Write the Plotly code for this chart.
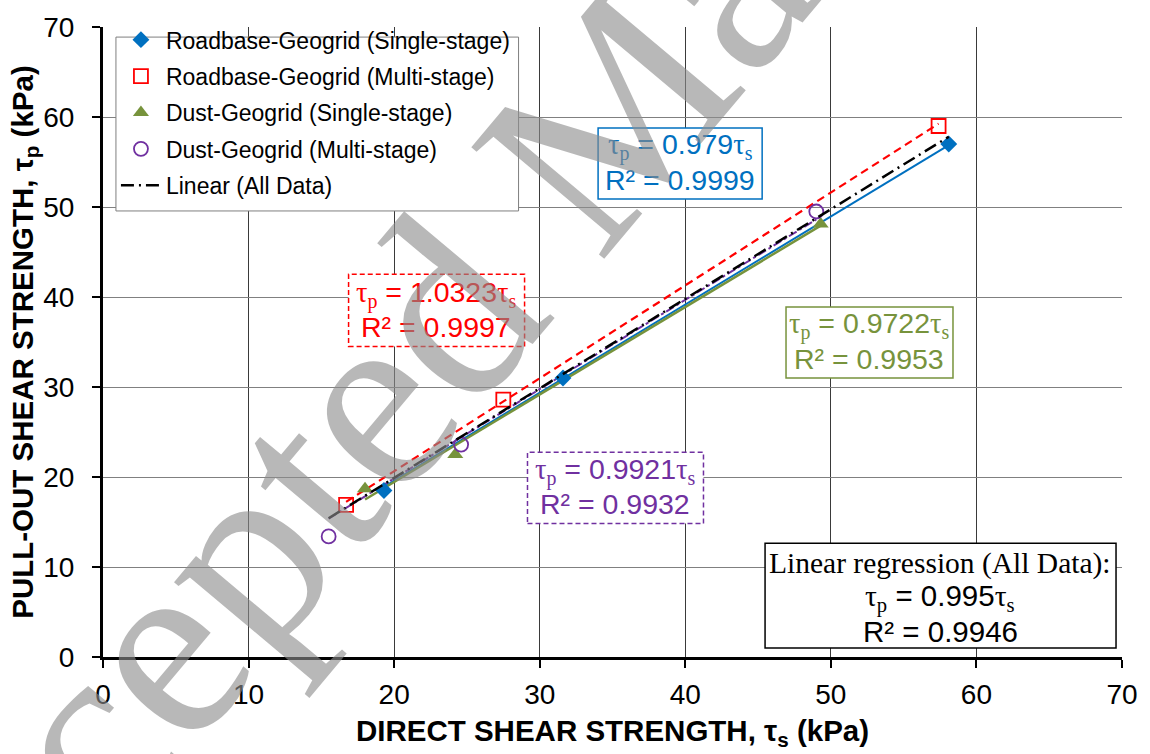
import plotly.graph_objects as go

# Direct shear strength τs (x) and pull-out shear strength τp (y), kPa
rb_single_x = [19.3, 31.6, 58.1]
rb_single_y = [18.5, 31.0, 57.0]
rb_multi_x = [16.7, 27.5, 57.4]
rb_multi_y = [16.9, 28.6, 59.0]
dust_single_x = [18.0, 24.2, 49.3]
dust_single_y = [18.7, 22.5, 48.1]
dust_multi_x = [15.5, 24.6, 49.0]
dust_multi_y = [13.4, 23.6, 49.5]

# Regressions through the origin: τp = k·τs
k_rb_single, r2_rb_single = 0.979, 0.9999
k_rb_multi, r2_rb_multi = 1.0323, 0.9997
k_dust_single, r2_dust_single = 0.9722, 0.9953
k_dust_multi, r2_dust_multi = 0.9921, 0.9932
k_all, r2_all = 0.995, 0.9946

axis_ticks = [0, 10, 20, 30, 40, 50, 60, 70]

BLUE = "#0070C0"
RED = "#FF0000"
GREEN = "#77933C"
PURPLE = "#7030A0"

SANS = "Arial, Liberation Sans, sans-serif"
SERIF_CSS = "font-family:\"Liberation Serif\", \"Times New Roman\", serif"

all_x = rb_single_x + rb_multi_x + dust_single_x + dust_multi_x


def fit_line(xs, k):
    lo, hi = min(xs), max(xs)
    return [lo, hi], [k * lo, k * hi]


fig = go.Figure()

# regression lines (drawn first so the markers sit on top)
for xs, k, color, dash, width in [
    (rb_single_x, k_rb_single, BLUE, "solid", 2),
    (dust_single_x, k_dust_single, GREEN, "solid", 2.5),
    (dust_multi_x, k_dust_multi, PURPLE, "dashdot", 2),
    (rb_multi_x, k_rb_multi, RED, "8px,5px", 2.2),
]:
    lx, ly = fit_line(xs, k)
    fig.add_trace(go.Scatter(x=lx, y=ly, mode="lines", showlegend=False,
                             line=dict(color=color, width=width, dash=dash),
                             hoverinfo="skip"))

# measured points
fig.add_trace(go.Scatter(x=rb_single_x, y=rb_single_y, mode="markers",
                         name="Roadbase-Geogrid (Single-stage)", legendgroup="a",
                         marker=dict(symbol="diamond", size=13, color=BLUE)))
fig.add_trace(go.Scatter(x=rb_multi_x, y=rb_multi_y, mode="markers",
                         name="Roadbase-Geogrid (Multi-stage)", legendgroup="b",
                         marker=dict(symbol="square-open", size=14, color=RED,
                                     line=dict(width=1.8))))
fig.add_trace(go.Scatter(x=dust_single_x, y=dust_single_y, mode="markers",
                         name="Dust-Geogrid (Single-stage)", legendgroup="c",
                         marker=dict(symbol="triangle-up", size=14, color=GREEN)))
fig.add_trace(go.Scatter(x=dust_multi_x, y=dust_multi_y, mode="markers",
                         name="Dust-Geogrid (Multi-stage)", legendgroup="d",
                         marker=dict(symbol="circle-open", size=14, color=PURPLE,
                                     line=dict(width=1.8))))

# all-data regression
ax, ay = fit_line(all_x, k_all)
fig.add_trace(go.Scatter(x=ax, y=ay, mode="lines", name="Linear (All Data)",
                         legendgroup="e",
                         line=dict(color="black", width=2.5, dash="13px,5px,2px,5px")))

TAU = "<span style='" + SERIF_CSS + "'>τ<sub>{}</sub></span>"


def eq_line(k):
    return f"{TAU.format('p')} = {k:g}{TAU.format('s')}"


annotations = []
shapes = []


def add_box(xc, yc, box, lines, color, size, pitch, dash="solid"):
    """Equation text box: one annotation per line plus a framed rectangle."""
    n = len(lines)
    for i, txt in enumerate(lines):
        annotations.append(dict(
            x=xc, y=yc, xref="x", yref="y", text=txt, showarrow=False,
            xanchor="center", yanchor="middle",
            yshift=((n - 1) / 2 - i) * pitch,
            font=dict(family=SANS, size=size, color=color)))
    x0, x1, y0, y1 = box
    shapes.append(dict(type="rect", xref="x", yref="y", x0=x0, x1=x1, y0=y0, y1=y1,
                       line=dict(color=color, width=1.5, dash=dash),
                       fillcolor="white", layer="between"))


add_box(39.64, 54.84, (34.01, 45.28, 50.88, 58.79),
        [eq_line(k_rb_single), f"R² = {r2_rb_single:.4f}"], BLUE, 28.5, 33)
add_box(22.9, 38.5, (16.87, 28.96, 34.51, 42.53),
        [eq_line(k_rb_multi), f"R² = {r2_rb_multi:.4f}"], RED, 28.5, 33, dash="5px,3px")
add_box(52.65, 34.95, (46.92, 58.39, 30.99, 38.9),
        [eq_line(k_dust_single), f"R² = {r2_dust_single:.4f}"], GREEN, 28.5, 33)
add_box(35.2, 18.8, (29.16, 41.25, 14.84, 22.75),
        [eq_line(k_dust_multi), f"R² = {r2_dust_multi:.4f}"], PURPLE, 28.5, 33,
        dash="5px,3px")
add_box(57.53, 6.6, (45.48, 69.59, 0.99, 12.64),
        [f"<span style='{SERIF_CSS}'>Linear regression (All Data):</span>",
         eq_line(k_all), f"R² = {r2_all:.4f}"], "black", 29.5, 34)

# framed white panel behind the legend entries
shapes.append(dict(type="rect", xref="paper", yref="paper",
                   x0=0.0127, x1=0.4078, y0=0.708, y1=0.984,
                   line=dict(color="#7f7f7f", width=1), fillcolor="white",
                   layer="above"))

# watermark across the figure
annotations.append(dict(
    xref="paper", yref="paper", x=0.465, y=0.80, text="Accepted Manuscript",
    showarrow=False, textangle=-50, xanchor="center", yanchor="middle",
    font=dict(family="Liberation Serif, Times New Roman, serif", size=265,
              color="rgba(140,140,140,0.62)"),
))

tick_font = dict(family=SANS, size=28, color="black")

fig.update_layout(
    width=1150, height=754,
    margin=dict(l=103, r=22, t=20, b=97),
    paper_bgcolor="white", plot_bgcolor="white",
    annotations=annotations, shapes=shapes,
    xaxis=dict(range=[0, 70], tickvals=axis_ticks, ticktext=[str(v) for v in axis_ticks],
               showgrid=True, gridcolor="#3a3a3a", gridwidth=1,
               showline=True, linecolor="black", linewidth=3,
               ticks="outside", ticklen=8, tickwidth=2, tickcolor="black",
               tickfont=tick_font, zeroline=False, ticklabelstandoff=2,
               title=dict(text="DIRECT SHEAR STRENGTH, τ<sub>s</sub> (kPa)",
                          font=dict(family=SANS, size=29.5, color="black", weight=700),
                          standoff=12)),
    yaxis=dict(range=[0, 70], tickvals=axis_ticks, ticktext=[str(v) for v in axis_ticks],
               showgrid=True, gridcolor="#808080", gridwidth=1,
               showline=True, linecolor="black", linewidth=3,
               ticks="outside", ticklen=8, tickwidth=2, tickcolor="black",
               tickfont=tick_font, zeroline=False, ticklabelstandoff=12,
               title=dict(text="PULL-OUT SHEAR STRENGTH, τ<sub>p</sub> (kPa)",
                          font=dict(family=SANS, size=29.5, color="black", weight=700),
                          standoff=1)),
    legend=dict(x=0.0127, y=1.014, xanchor="left", yanchor="top",
                bgcolor="rgba(0,0,0,0)", borderwidth=0,
                font=dict(family=SANS, size=23, color="black"),
                tracegroupgap=3.5, itemwidth=40),
    showlegend=True,
)

fig.write_html("out.html")
